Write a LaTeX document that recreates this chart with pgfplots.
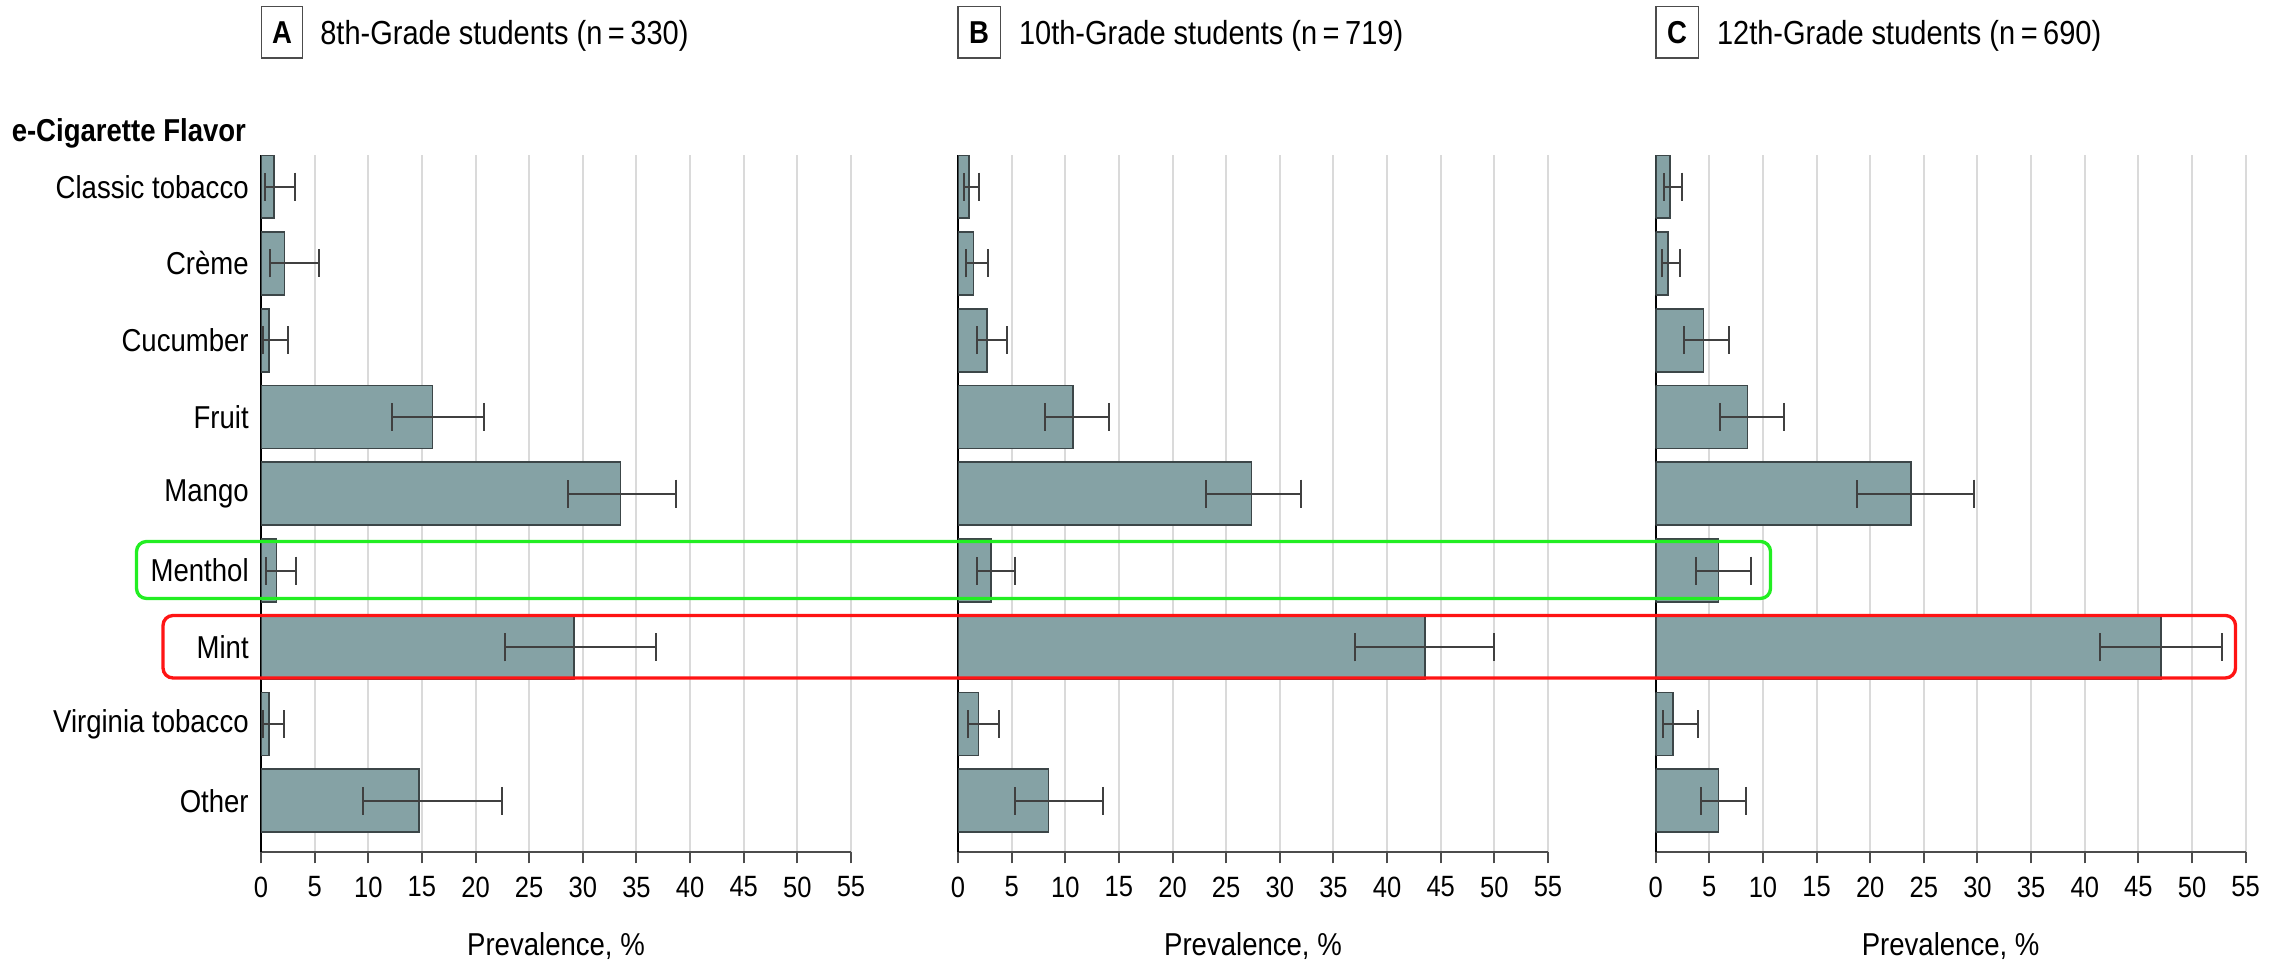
\documentclass[border=0pt]{standalone}
\usepackage{fontspec}
\setmainfont{Liberation Sans}[FakeStretch=0.87]
\usepackage{pgfplots}
\pgfplotsset{compat=1.18}
\usepackage{pgfplotstable}
\definecolor{barfill}{RGB}{133,162,165}
\definecolor{baredge}{RGB}{60,70,72}
\definecolor{gridc}{RGB}{218,218,218}
\definecolor{boxgreen}{RGB}{34,238,34}
\definecolor{boxred}{RGB}{255,20,20}

% y: 8 = Classic tobacco ... 0 = Other
\pgfplotstableread{
y v em ep
8 1.2 0.8 2.0
7 2.2 1.4 3.2
6 0.75 0.55 1.75
5 16.0 3.8 4.8
4 33.5 4.9 5.2
3 1.45 1.0 1.85
2 29.2 6.5 7.6
1 0.75 0.55 1.35
0 14.7 5.2 7.8
}\dataA
\pgfplotstableread{
y v em ep
8 1.05 0.5 0.95
7 1.45 0.7 1.35
6 2.7 0.9 1.9
5 10.75 2.6 3.3
4 27.35 4.2 4.6
3 3.1 1.3 2.2
2 43.55 6.5 6.45
1 1.9 0.95 1.9
0 8.45 3.15 5.05
}\dataB
\pgfplotstableread{
y v em ep
8 1.35 0.55 1.15
7 1.15 0.55 1.15
6 4.45 1.8 2.35
5 8.55 2.55 3.4
4 23.8 5.05 5.85
3 5.85 2.1 3.05
2 47.1 5.7 5.65
1 1.6 0.95 2.35
0 5.85 1.65 2.6
}\dataC

\pgfplotsset{
  panel/.style={
    scale only axis, width=177pt, height=209pt,
    anchor=south west,
    xmin=0, xmax=55, ymin=-0.663, ymax=8.413,
    xtick={0,5,...,55},
    xmajorgrids, major grid style={gridc, line width=0.6pt},
    axis x line=bottom, axis y line=left,
    x axis line style={-, draw=gray!60!black, line width=0.6pt},
    y axis line style={-, draw=black, line width=0.5pt},
    tick align=outside,
    xtick style={draw=gray!60!black, line width=0.6pt},
    ytick style={draw=none},
    major tick length=3.5pt,
    ytick=\empty,
    xticklabel style={font=\fontsize{8.8}{10}\selectfont, inner sep=0pt, anchor=north, yshift=-3.8pt},
    /pgf/number format/assume math mode=true,
    xlabel={Prevalence, \%},
    xlabel style={font=\fontsize{9.5}{11}\selectfont, inner sep=0pt, anchor=north,
      at={(axis description cs:0.5,0)}, yshift=-24.1pt},
    xbar, bar width=0.82,
  },
  barplot/.style={fill=barfill, draw=baredge, line width=0.5pt,
    error bars/.cd, x dir=both, x explicit,
    error bar style={line width=0.6pt, black!75},
    error mark options={line width=0.6pt, black!75, mark size=4.2pt, rotate=90}},
}

\begin{document}
\begin{tikzpicture}
\path[use as bounding box] (0pt,0pt) rectangle (686.4pt,-288.6pt);

\begin{axis}[panel, at={(78.3pt,-255.5pt)},
  ytick={0,...,8},
  yticklabels={Other, Virginia tobacco, Mint, Menthol, Mango, Fruit, Cucumber, Crème, Classic tobacco},
  yticklabel style={font=\fontsize{9.5}{11}\selectfont, anchor=east, inner sep=0pt, xshift=0pt}]
\addplot[barplot] table[x=v, y=y, x error plus=ep, x error minus=em] {\dataA};
\end{axis}

\begin{axis}[panel, at={(287.4pt,-255.5pt)}]
\addplot[barplot] table[x=v, y=y, x error plus=ep, x error minus=em] {\dataB};
\end{axis}

\begin{axis}[panel, at={(496.7pt,-255.5pt)}]
\addplot[barplot] table[x=v, y=y, x error plus=ep, x error minus=em] {\dataC};
\end{axis}

% panel titles
\draw[gray!60!black, line width=0.5pt] (78.4pt,-2pt) rectangle (90.75pt,-17.5pt);
\node[font=\fontsize{9.5}{11}\selectfont\bfseries, inner sep=0pt] at (84.6pt,-9.75pt) {A};
\node[font=\fontsize{10}{11}\selectfont, anchor=base west, inner sep=0pt] at (95.9pt,-13.5pt) {8th-Grade students (n\,=\,330)};

\draw[gray!60!black, line width=0.5pt] (287.4pt,-2pt) rectangle (300.1pt,-17.5pt);
\node[font=\fontsize{9.5}{11}\selectfont\bfseries, inner sep=0pt] at (293.75pt,-9.75pt) {B};
\node[font=\fontsize{10}{11}\selectfont, anchor=base west, inner sep=0pt] at (305.5pt,-13.5pt) {10th-Grade students (n\,=\,719)};

\draw[gray!60!black, line width=0.5pt] (496.7pt,-2pt) rectangle (509.5pt,-17.5pt);
\node[font=\fontsize{9.5}{11}\selectfont\bfseries, inner sep=0pt] at (503.1pt,-9.75pt) {C};
\node[font=\fontsize{10}{11}\selectfont, anchor=base west, inner sep=0pt] at (514.9pt,-13.5pt) {12th-Grade students (n\,=\,690)};

\node[font=\fontsize{9.5}{11}\selectfont\bfseries, anchor=base east, inner sep=0pt] at (74.0pt,-42.5pt) {e-Cigarette Flavor};

% highlight boxes
\draw[boxgreen, line width=1pt, rounded corners=3pt] (40.95pt,-162.45pt) rectangle (531.15pt,-179.55pt);
\draw[boxred, line width=1pt, rounded corners=3pt] (48.9pt,-184.65pt) rectangle (670.65pt,-203.4pt);
\end{tikzpicture}
\end{document}
